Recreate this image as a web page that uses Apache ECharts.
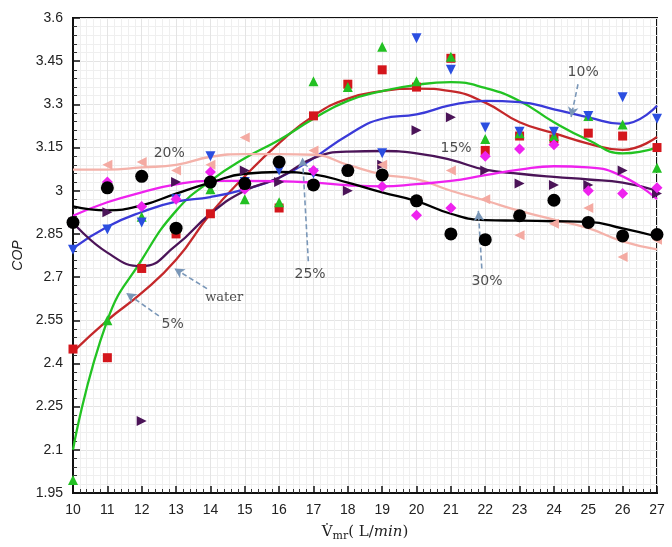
<!DOCTYPE html>
<html>
<head>
<meta charset="utf-8">
<script src="https://cdn.jsdelivr.net/npm/echarts@6/dist/echarts.min.js"></script>
<style>
  html, body { margin: 0; padding: 0; background: #fff; }
  #chart { width: 672px; height: 547px; }
</style>
</head>
<body>
<div id="chart"></div>
<script>
// flow rate (L/min)
var flowRates = [10, 11, 12, 13, 14, 15, 16, 17, 18, 19, 20, 21, 22, 23, 24, 25, 26, 27];
var yTicks = [1.95, 2.1, 2.25, 2.4, 2.55, 2.7, 2.85, 3, 3.15, 3.3, 3.45, 3.6];

// measured COP points (null = not visible in the figure)
var waterPts = [2.45, 2.42, 2.73, 2.85, 2.92, 3.02, 2.94, 3.26, 3.37, 3.42, 3.36, 3.46, 3.14, 3.19, 3.18, 3.20, 3.19, 3.15];
var p5Pts    = [1.995, 2.55, 2.91, 2.87, 3.005, 2.97, 2.96, 3.38, 3.36, 3.50, 3.38, 3.465, 3.18, 3.20, 3.19, 3.26, 3.23, 3.08];
var p10Pts   = [2.795, 2.865, 2.89, 2.97, 3.12, 3.03, 3.07, 3.06, 3.07, 3.13, 3.53, 3.42, 3.22, 3.205, 3.205, 3.26, 3.325, 3.25];
var p15Pts   = [2.89, 2.925, 2.20, 3.03, null, 3.07, 3.03, 3.02, 3.00, 3.09, 3.21, 3.255, 3.07, 3.025, 3.02, 3.02, 3.07, 2.99];
var p20Pts   = [null, 3.09, 3.10, 3.07, 3.09, 3.185, 3.10, 3.14, 3.07, 3.09, 2.965, 3.07, 2.97, 2.845, 2.885, 2.94, 2.77, 2.83];
var p25Pts   = [2.89, 3.03, 2.945, 2.97, 3.065, 3.005, null, 3.07, 3.07, 3.015, 2.915, 2.94, 3.12, 3.145, 3.16, 3.0, 2.99, 3.01];
var p30Pts   = [2.89, 3.01, 3.05, 2.87, 3.03, 3.025, 3.10, 3.02, 3.07, 3.055, 2.965, 2.85, 2.83, 2.913, 2.967, 2.89, 2.843, 2.848];

// fitted curves read at each flow rate
var waterFit = [2.44, 2.55, 2.645, 2.76, 2.92, 3.05, 3.165, 3.26, 3.32, 3.346, 3.355, 3.346, 3.306, 3.238, 3.20, 3.164, 3.142, 3.187];
var p5Fit    = [2.10, 2.55, 2.76, 2.93, 3.034, 3.113, 3.176, 3.25, 3.312, 3.346, 3.368, 3.377, 3.357, 3.312, 3.238, 3.176, 3.13, 3.15];
var p10Fit   = [2.80, 2.875, 2.926, 2.962, 2.978, 3.005, 3.045, 3.113, 3.193, 3.25, 3.265, 3.297, 3.312, 3.308, 3.283, 3.255, 3.232, 3.295];
var p15Fit   = [2.89, 2.785, 2.738, 2.81, 2.92, 3.0, 3.045, 3.113, 3.136, 3.138, 3.13, 3.107, 3.073, 3.059, 3.048, 3.039, 3.028, 3.0];
var p20Fit   = [3.073, 3.073, 3.081, 3.09, 3.118, 3.127, 3.127, 3.125, 3.09, 3.057, 3.04, 3.0, 2.966, 2.93, 2.90, 2.87, 2.824, 2.796];
var p25Fit   = [2.913, 2.96, 2.994, 3.022, 3.034, 3.034, 3.033, 3.028, 3.019, 3.015, 3.023, 3.034, 3.054, 3.073, 3.085, 3.081, 3.05, 2.971];
var p30Fit   = [2.946, 2.932, 2.949, 2.99, 3.028, 3.059, 3.065, 3.057, 3.028, 2.994, 2.964, 2.92, 2.898, 2.896, 2.894, 2.892, 2.869, 2.841];

// annotations: text, position, and arrow start/end
var noteText = ['20%', '15%', '10%', '25%', '30%', 'water', '5%'];
var noteX    = [12.8, 21.15, 24.85, 16.9, 22.05, 14.4, 12.9];
var noteY    = [3.13, 3.147, 3.41, 2.71, 2.685, 2.627, 2.535];
var arrowFrom = [[24.7, 3.37], [16.85, 2.755], [21.9, 2.73], [13.9, 2.66], [12.5, 2.565]];
var arrowTo   = [[24.5, 3.256], [16.68, 3.115], [21.8, 2.93], [12.95, 2.73], [11.55, 2.645]];

function pairs(vals) {
  return flowRates.map(function (x, i) { return [x, vals[i]]; });
}

var groups = [
  { name: 'water', pts: waterPts, fit: waterFit, color: '#d4161c', line: '#c4282a', symbol: 'rect', size: 9, rot: 0 },
  { name: '5%',    pts: p5Pts,    fit: p5Fit,    color: '#22c022', line: '#22c322', symbol: 'triangle', size: 10, rot: 0 },
  { name: '10%',   pts: p10Pts,   fit: p10Fit,   color: '#2b4ee0', line: '#3a3ad8', symbol: 'triangle', size: 10, rot: 180 },
  { name: '15%',   pts: p15Pts,   fit: p15Fit,   color: '#4b1458', line: '#4b1458', symbol: 'triangle', size: 10, rot: -90 },
  { name: '20%',   pts: p20Pts,   fit: p20Fit,   color: '#f4aaa2', line: '#f4b2aa', symbol: 'triangle', size: 10, rot: 90 },
  { name: '25%',   pts: p25Pts,   fit: p25Fit,   color: '#ee22ee', line: '#ee22ee', symbol: 'diamond', size: 11, rot: 0 },
  { name: '30%',   pts: p30Pts,   fit: p30Fit,   color: '#000000', line: '#000000', symbol: 'circle', size: 13, rot: 0 }
];

var series = [];
groups.forEach(function (g, i) {
  series.push({
    name: g.name + ' fit',
    type: 'line',
    data: pairs(g.fit),
    smooth: 0.5,
    showSymbol: false,
    lineStyle: { color: g.line, width: 2.3 },
    z: 2 + i * 0.1,
    silent: true
  });
});
groups.forEach(function (g, i) {
  series.push({
    name: g.name,
    type: 'scatter',
    data: pairs(g.pts),
    symbol: g.symbol,
    symbolSize: g.size,
    symbolRotate: g.rot,
    itemStyle: { color: g.color, opacity: 1 },
    z: 5 + i * 0.1
  });
});

// annotation texts
var notes = noteText.map(function (t, i) { return { name: t, value: [noteX[i], noteY[i]] }; });
notes[5].label = { fontFamily: 'DejaVu Serif', fontSize: 13 };  // "water" is set in a serif face
series.push({
  name: 'notes',
  type: 'scatter',
  symbolSize: 0,
  data: notes,
  label: {
    show: true,
    position: 'inside',
    formatter: '{b}',
    color: '#222',
    fontSize: 14,
    fontFamily: 'DejaVu Sans'
  },
  z: 8,
  silent: true,
  markLine: {
    silent: true,
    symbol: ['none', 'arrow'],
    symbolSize: [8, 10],
    lineStyle: { color: '#7a97b8', type: [5, 3], width: 1.6 },
    label: { show: false },
    data: arrowFrom.map(function (f, i) {
      return [{ coord: f }, { coord: arrowTo[i] }];
    })
  }
});

var chart = echarts.init(document.getElementById('chart'));
chart.setOption({
  animation: false,
  grid: {
    left: 73, right: 15, top: 18, bottom: 45,
    show: true, borderColor: '#111', borderWidth: 2, backgroundColor: 'transparent'
  },
  xAxis: {
    type: 'value',
    min: 10, max: 27, interval: 1,
    name: 'V\u0307{sub|mr}( L/{it|min})',
    nameLocation: 'middle',
    nameGap: 30,
    nameTextStyle: {
      color: '#222', fontSize: 15, fontFamily: 'DejaVu Serif',
      rich: {
        sub: { fontSize: 11, verticalAlign: 'bottom', padding: [8, 0, 0, 0], fontFamily: 'DejaVu Serif', color: '#222' },
        it: { fontStyle: 'italic', fontSize: 15, fontFamily: 'DejaVu Serif', color: '#222' }
      }
    },
    axisLine: { lineStyle: { color: '#111', width: 2 } },
    axisTick: { inside: true, length: 7, lineStyle: { color: '#111', width: 1.5 } },
    minorTick: { show: true, splitNumber: 5, length: 4, lineStyle: { color: '#333' } },
    axisLabel: { color: '#222', fontSize: 14, fontFamily: 'Liberation Sans', margin: 10 },
    splitLine: { show: true, lineStyle: { color: '#e4e4e4', width: 1 } },
    minorSplitLine: { show: true, lineStyle: { color: '#efefef', width: 1 } }
  },
  yAxis: {
    type: 'value',
    min: 1.95, max: 3.6, interval: 0.15,
    name: 'COP',
    nameLocation: 'middle',
    nameGap: 43,
    nameTextStyle: { color: '#222', fontSize: 14, fontStyle: 'italic', fontFamily: 'Liberation Sans' },
    axisLine: { lineStyle: { color: '#111', width: 2 } },
    axisTick: { inside: true, length: 7, lineStyle: { color: '#111', width: 1.5 } },
    minorTick: { show: true, splitNumber: 5, length: 4, lineStyle: { color: '#333' } },
    axisLabel: {
      color: '#222', fontSize: 14, fontFamily: 'Liberation Sans', margin: 10,
      formatter: function (v) {
        var t = yTicks.filter(function (k) { return Math.abs(k - v) < 1e-6; });
        return t.length ? String(t[0]) : '';
      }
    },
    splitLine: { show: true, lineStyle: { color: '#e4e4e4', width: 1 } },
    minorSplitLine: { show: true, lineStyle: { color: '#efefef', width: 1 } }
  },
  series: series
});
</script>
</body>
</html>
